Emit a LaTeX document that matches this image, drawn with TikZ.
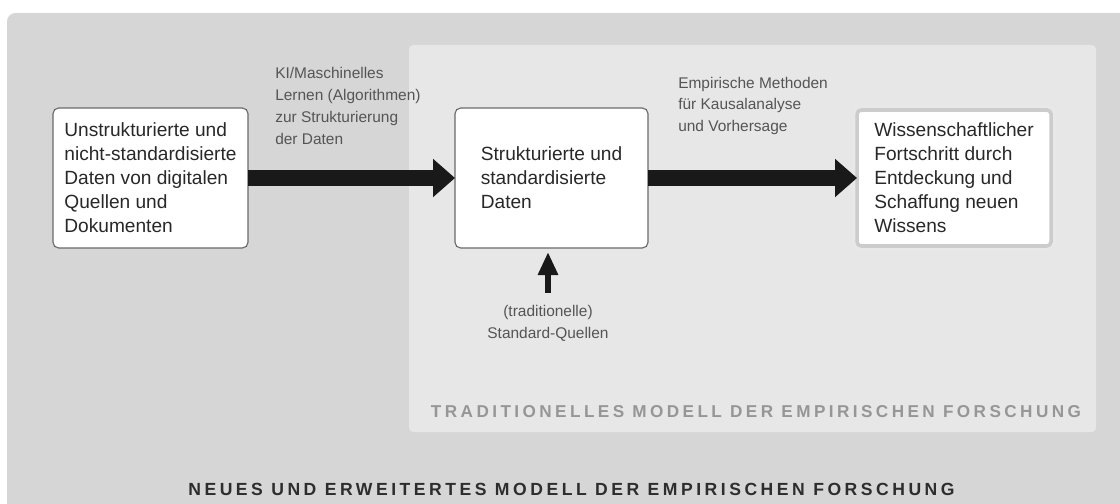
\documentclass[tikz,border=0pt]{standalone}
\usepackage{fontspec}
\setmainfont{Liberation Sans}
\newfontfamily\trackfont[LetterSpace=20]{Liberation Sans}
\usetikzlibrary{arrows.meta,positioning}
\definecolor{empouter}{RGB}{214, 214, 214}
\definecolor{empinner}{RGB}{231, 231, 231}
\definecolor{empborder}{RGB}{105, 105, 105}
\definecolor{emptext}{RGB}{40, 40, 40}
\definecolor{emplabel}{RGB}{85, 85, 85}
\definecolor{emptitle}{RGB}{45, 45, 45}
\definecolor{empsubtitle}{RGB}{150, 150, 150}

\begin{document}
\begin{tikzpicture}[
		% Node styles
		databox/.style={draw=empborder, fill=white, rounded corners=4pt, line width=0.8pt,
				minimum width=#1, minimum height=3.5cm, inner sep=0pt, outer sep=0pt,
				align=left, text=emptext, font=\fontsize{13.6}{17.1}\selectfont},
		databox/.default=4.85cm,
		resultbox/.style={draw=black!20, fill=white, rounded corners=3pt, line width=2.5pt,
				preaction={draw=black!9, line width=7pt},
				minimum width=4.85cm, minimum height=3.4cm, inner sep=0pt, outer sep=0pt,
				align=left, text=emptext, font=\fontsize{13.6}{17.1}\selectfont},
		steplabel/.style={align=left, text=emplabel, inner sep=0pt, font=\fontsize{11}{15.6}\selectfont},
		flow/.style={-{Triangle[length=0.55cm, width=0.925cm]}, line width=0.4cm, black!90},
		feed/.style={-{Triangle[length=0.575cm, width=0.475cm]}, line width=0.15cm, black!90},
		title/.style={font=\trackfont\bfseries\fontsize{12.5}{14}\selectfont, text=emptitle},
		subtitle/.style={font=\trackfont\bfseries\fontsize{12.2}{14}\selectfont, text=empsubtitle}
	]

	\useasboundingbox (0,0) rectangle (28,12.575);
	\clip (0,0) rectangle (28,12.575);

	% Backgrounds
	\fill[empouter, rounded corners=6pt] (0.175,-1) rectangle (29,12.25);
	\fill[empinner, rounded corners=3pt] (10.225,1.775) rectangle (27.4,11.45);

	% Main boxes
	\node[databox=4.875cm] (raw) at (3.7625,8.125) {Unstrukturierte und \\ nicht-standardisierte \\ Daten von digitalen \\ Quellen und \\ Dokumenten};
	\node[databox=4.825cm] (structured) at (13.7875,8.125) {Strukturierte und \\ standardisierte \\ Daten};
	\node[resultbox] (progress) at (23.85,8.125) {Wissenschaftlicher \\ Fortschritt durch \\ Entdeckung und \\ Schaffung neuen \\ Wissens};

	% Labels
	\node[steplabel, anchor=west] (mllabel) at (6.875,9.925) {KI/Maschinelles \\ Lernen (Algorithmen) \\ zur Strukturierung \\ der Daten};
	\node[steplabel, anchor=west] (methodlabel) at (16.95,9.925) {Empirische Methoden \\ für Kausalanalyse \\ und Vorhersage};
	\node[steplabel, align=center] (sources) at (13.7,4.4875) {(traditionelle) \\ Standard-Quellen};

	% Connections
	\draw[flow] (raw) -- (structured);
	\draw[flow] (structured) -- (progress);
	\draw[feed, shorten <=0.3cm, shorten >=0.1cm] (sources.north) -- (sources.north |- structured.south);

	% Titles
	\node[subtitle] (tradtitle) at (18.9,2.275) {TRADITIONELLES MODELL DER EMPIRISCHEN FORSCHUNG};
	\node[title] (newtitle) at (14.2875,0.35) {NEUES UND ERWEITERTES MODELL DER EMPIRISCHEN FORSCHUNG};

\end{tikzpicture}
\end{document}
